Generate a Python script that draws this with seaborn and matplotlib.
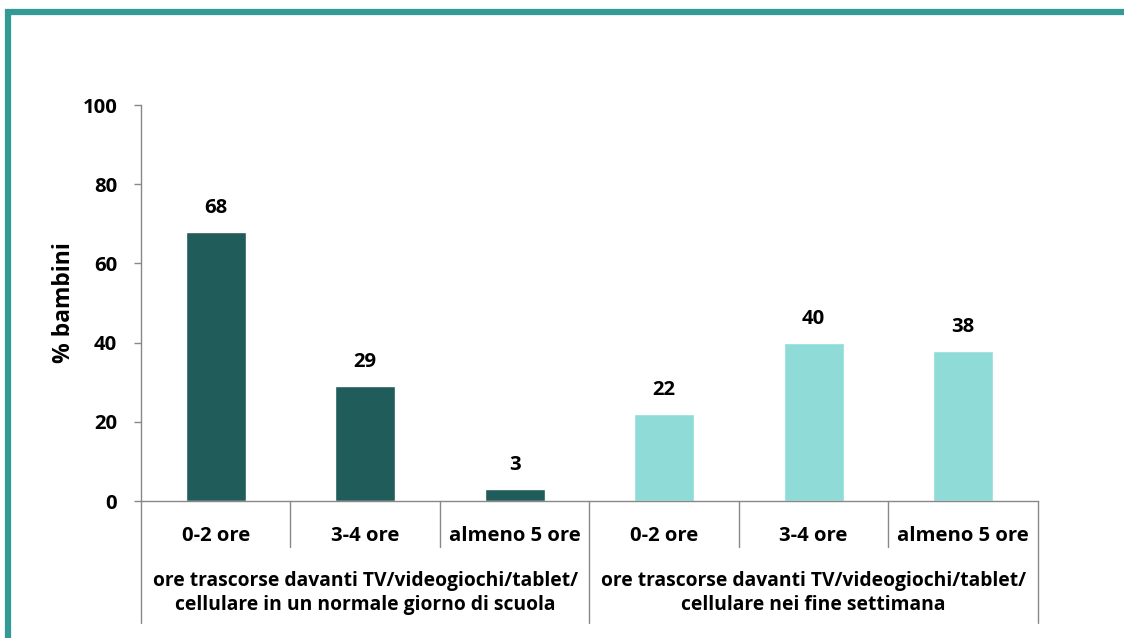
import matplotlib
matplotlib.use("Agg")
import matplotlib.pyplot as plt
from matplotlib.lines import Line2D
import seaborn as sns
import pandas as pd

# Data
sub_categories = ["0-2 ore", "3-4 ore", "almeno 5 ore", "0-2 ore", "3-4 ore", "almeno 5 ore"]
groups = ["ore trascorse davanti TV/videogiochi/tablet/\ncellulare in un normale giorno di scuola",
          "ore trascorse davanti TV/videogiochi/tablet/\ncellulare nei fine settimana"]
values_school = [68, 29, 3]
values_weekend = [22, 40, 38]
y_ticks = [0, 20, 40, 60, 80, 100]
y_label = "% bambini"

colors = ["#1f5c5a", "#8fdbd8"]

keys = [f"g{g}_{i}" for g in range(2) for i in range(3)]
df = pd.DataFrame({
    "key": keys,
    "gruppo": ["scuola"] * 3 + ["weekend"] * 3,
    "valore": values_school + values_weekend,
})

sns.set_theme(style="white")
plt.rcParams["font.family"] = ["Open Sans", "DejaVu Sans"]
FS = 14.6

fig = plt.figure(figsize=(11.24, 6.38), dpi=100)
ax = fig.add_axes([0.1254, 0.2147, 0.798, 0.6207])

sns.barplot(data=df, x="key", y="valore", hue="gruppo", palette=colors,
            dodge=False, width=0.4, legend=False, ax=ax, saturation=1)

for c in ax.containers:
    ax.bar_label(c, fmt="%d", padding=10, fontsize=FS, fontweight="bold", color="black")

ax.set_xlim(-0.5, 5.5)
ax.set_ylim(0, 100)
ax.set_yticks(y_ticks)
ax.set_yticklabels([str(t) for t in y_ticks], fontsize=FS, fontweight="bold", color="black")
ax.tick_params(axis="y", which="both", left=True, length=5, width=1, color="#888888", pad=12)
ax.set_xticks(range(6))
ax.set_xticklabels(sub_categories, fontsize=FS, fontweight="bold", color="black")
ax.tick_params(axis="x", length=0, pad=18)
ax.set_xlabel("")
ax.set_ylabel(y_label, fontsize=16.5, fontweight="bold", color="black", labelpad=5)

for s in ["top", "right"]:
    ax.spines[s].set_visible(False)
for s in ["left", "bottom"]:
    ax.spines[s].set_color("#888888")
    ax.spines[s].set_linewidth(1)

tr = ax.get_xaxis_transform()
for x in [0.5, 1.5, 3.5, 4.5]:
    ax.plot([x, x], [0, -0.116], transform=tr, color="#888888", lw=1, clip_on=False)
for x in [-0.5, 2.5, 5.5]:
    ax.plot([x, x], [0, -0.308], transform=tr, color="#888888", lw=1, clip_on=False)

for gi, g in enumerate(groups):
    ax.text(gi * 3 + 1, -0.232, g, transform=tr, ha="center", va="center",
            fontsize=13.9, fontweight="bold", color="black", linespacing=1.25)

# Teal frame
fig.add_artist(Line2D([5 / 1124, 1], [1 - 12 / 638, 1 - 12 / 638], transform=fig.transFigure,
                      color="#339a96", lw=4.5, solid_capstyle="butt"))
fig.add_artist(Line2D([8 / 1124, 8 / 1124], [0, 1 - 9 / 638], transform=fig.transFigure,
                      color="#339a96", lw=4.5, solid_capstyle="butt"))

fig.savefig("out.png", dpi=100)
